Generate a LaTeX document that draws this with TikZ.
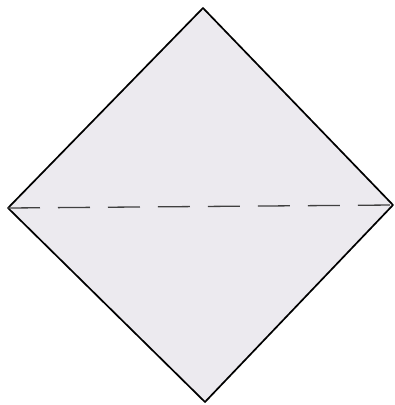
\documentclass[tikz,border=0pt]{standalone}
\usepackage{tikz}
\usetikzlibrary{calc}
\definecolor{paper}{HTML}{ECEAEF}
\tikzstyle{sheet} = [draw=black, line width=1.7pt, fill=paper, line join=round]
\tikzstyle{fold} = [draw=black!75, line width=1.3pt, dash pattern=on 32pt off 18pt]

\begin{document}
\begin{tikzpicture}
				[x=1pt, y=-1pt]
				\useasboundingbox (0,0) rectangle (395,405);
				\coordinate (t) at (203,8);
				\coordinate (l) at (8,208);
				\coordinate (r) at (393,205);
				\coordinate (b) at (205,402);
				\path[sheet] (t) -- (r) -- (b) -- (l) -- cycle;
				\draw[fold] (l) -- (r);
			\end{tikzpicture}
\end{document}
